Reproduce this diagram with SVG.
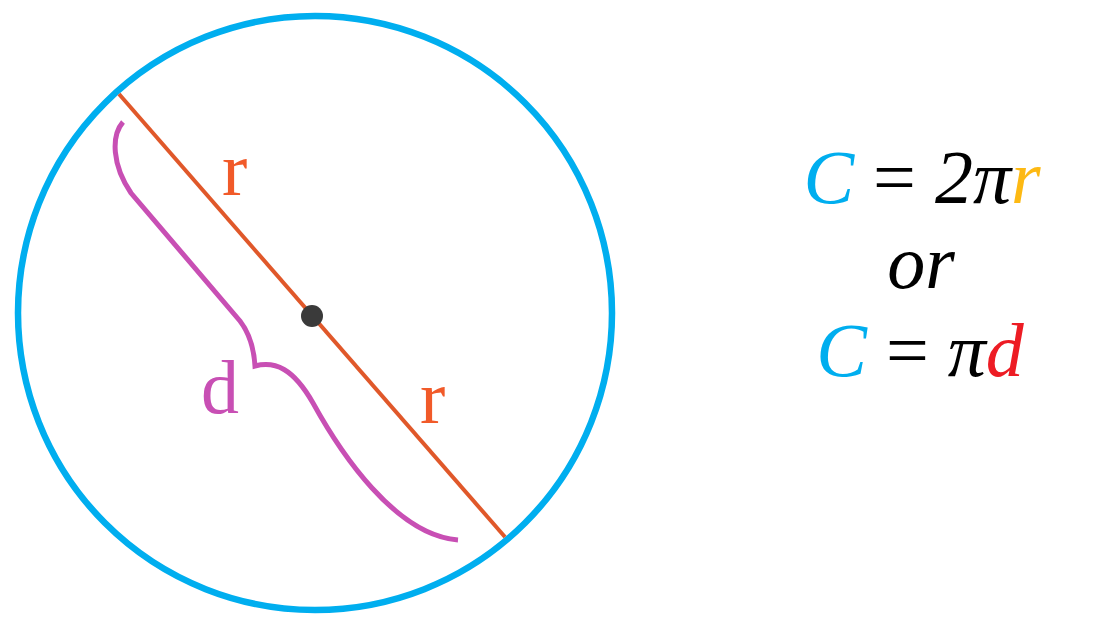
<svg xmlns="http://www.w3.org/2000/svg" width="1105" height="622" viewBox="0 0 1105 622">
<style>
.lbl{font-family:"Liberation Serif","Times New Roman",serif;font-size:76px}
.eq{font-family:"Liberation Serif","Times New Roman",serif;font-size:76px;font-style:italic;text-anchor:middle}
</style>
<rect width="1105" height="622" fill="#ffffff"/>
<g id="circle">
<circle cx="315" cy="313" r="297" fill="none" stroke="#00AEEF" stroke-width="6.5"/>
</g>
<g id="connectors">
<line x1="119" y1="94" x2="505" y2="537" stroke="#E0582A" stroke-width="4"/>
<path d="M123,122 C111,136 112,165 131,193 L240,321 C250,334 254,350 255,366 C275,361 293,368 313,403 C340,452 395,535 458,540" fill="none" stroke="#C84FB4" stroke-width="5" stroke-linecap="butt" stroke-linejoin="miter"/>
</g>
<g id="center">
<circle cx="312" cy="316" r="11" fill="#3A3A3A"/>
</g>
<g id="labels">
<text class="lbl" x="222" y="195" fill="#F15A29">r</text>
<text class="lbl" x="420" y="423" fill="#F15A29">r</text>
<text class="lbl" x="201" y="413" fill="#C84FB4">d</text>
</g>
<g id="formula">
<text class="eq" x="922" y="203"><tspan fill="#00AEEF">C</tspan><tspan fill="#000000" font-style="normal"> = </tspan><tspan fill="#000000">2π</tspan><tspan fill="#FDB913">r</tspan></text>
<text class="eq" x="921" y="288" fill="#000000">or</text>
<text class="eq" x="920" y="376"><tspan fill="#00AEEF">C</tspan><tspan fill="#000000" font-style="normal"> = </tspan><tspan fill="#000000">π</tspan><tspan fill="#ED1C24">d</tspan></text>
</g>
</svg>
